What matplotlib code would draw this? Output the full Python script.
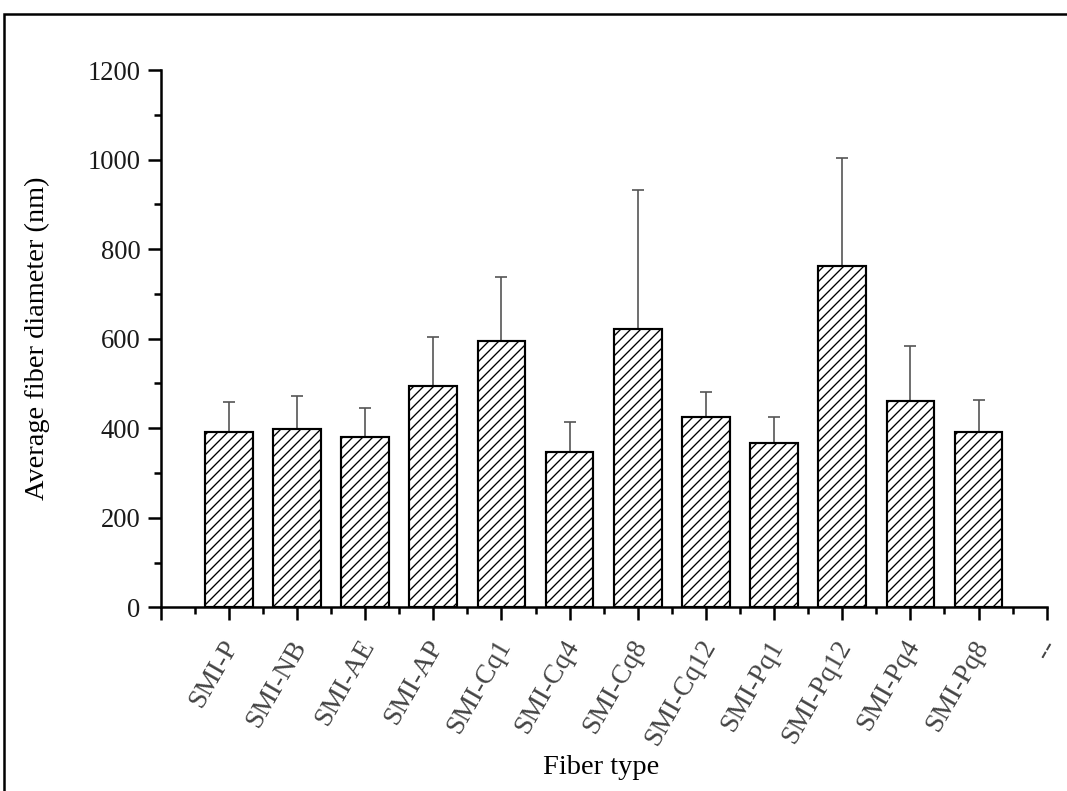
import matplotlib
matplotlib.use("Agg")
import matplotlib.pyplot as plt
from matplotlib.patches import Rectangle
from matplotlib.ticker import MultipleLocator, FixedLocator
from matplotlib.transforms import ScaledTranslation

# Average fiber diameter per fiber type (nm) and upper error (SD)
fiber_types = ["SMI-P", "SMI-NB", "SMI-AE", "SMI-AP", "SMI-Cq1", "SMI-Cq4",
               "SMI-Cq8", "SMI-Cq12", "SMI-Pq1", "SMI-Pq12", "SMI-Pq4", "SMI-Pq8"]
mean_diameter = [391, 398, 380, 495, 594, 347, 621, 424, 368, 762, 461, 391]
upper_error = [68, 74, 65, 108, 144, 67, 311, 57, 56, 241, 122, 72]
tick_labels = [""] + fiber_types + ["--"]

DPI = 120
W, H = 1067, 791
plt.rcParams["font.family"] = ["Liberation Serif", "DejaVu Serif"]
plt.rcParams["hatch.linewidth"] = 0.8

fig = plt.figure(figsize=(W / DPI, H / DPI), dpi=DPI)
ax = fig.add_axes([160.7 / W, 1 - 607.3 / H, (1046.7 - 160.7) / W, (607.3 - 70) / H])

positions = list(range(1, len(fiber_types) + 1))
ax.bar(positions, mean_diameter, width=0.7, facecolor="white", edgecolor="black",
       linewidth=1.3, hatch="////", zorder=2)
ax.errorbar(positions, mean_diameter,
            yerr=[[0] * len(upper_error), upper_error],
            fmt="none", ecolor="#555555", elinewidth=1.0, capsize=3.6, capthick=1.0,
            zorder=1)

ax.set_xlim(0, 13)
ax.set_ylim(0, 1200)

for side in ("top", "right"):
    ax.spines[side].set_visible(False)
for side in ("left", "bottom"):
    ax.spines[side].set_linewidth(1.5)

ax.yaxis.set_major_locator(MultipleLocator(200))
ax.yaxis.set_minor_locator(MultipleLocator(100))
ax.xaxis.set_major_locator(FixedLocator(range(0, 14)))
ax.xaxis.set_minor_locator(FixedLocator([i + 0.5 for i in range(13)]))
ax.set_xticklabels(tick_labels)

ax.tick_params(axis="both", which="major", direction="out", length=8, width=1.5,
               labelsize=16)
ax.tick_params(axis="both", which="minor", direction="out", length=4, width=1.5)
ax.tick_params(axis="y", which="major", pad=4, labelcolor="#1a1a1a")
ax.tick_params(axis="x", which="major", pad=9, labelcolor="#444444", labelsize=16.5)
shift = ScaledTranslation(-7 / DPI, 0, fig.dpi_scale_trans)
for lbl in ax.get_xticklabels():
    lbl.set_rotation(60)
    lbl.set_ha("right")
    lbl.set_va("top")
    lbl.set_rotation_mode("anchor")
    lbl.set_transform(lbl.get_transform() + shift)

ax.set_xlabel("Fiber type", fontsize=17)
ax.set_ylabel("Average fiber diameter (nm)", fontsize=17)
ax.xaxis.set_label_coords(0.497, -0.275)
ax.yaxis.set_label_coords(-0.125, 0.5)

# frame around the whole figure, running off the right and bottom edges
frame = Rectangle((4 / W, -0.2), 1.5, (H - 14) / H + 0.2, transform=fig.transFigure,
                  fill=False, edgecolor="black", linewidth=1.5, clip_on=False)
fig.patches.append(frame)

fig.savefig("out.png", dpi=DPI)
